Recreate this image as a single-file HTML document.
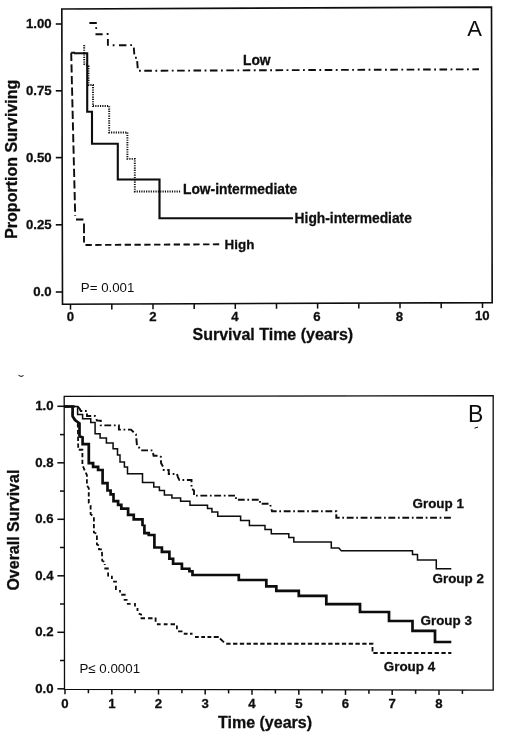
<!DOCTYPE html>
<html>
<head>
<meta charset="utf-8">
<title>Survival curves</title>
<style>
html,body{margin:0;padding:0;background:#fff;}
body{width:520px;height:733px;overflow:hidden;font-family:"Liberation Sans",sans-serif;}
svg{display:block;}
text{font-family:"Liberation Sans",sans-serif;fill:#111;}
.b{font-weight:bold;}
.tk,.lb,.ax{stroke:#111;stroke-width:0.3px;}
.tk{font-weight:bold;font-size:13.2px;}
.lb{font-weight:bold;font-size:13.4px;}
.ax{font-weight:bold;font-size:16px;}
.ln{fill:none;stroke:#0a0a0a;}
</style>
</head>
<body>
<svg width="520" height="733" viewBox="0 0 520 733">
<defs><filter id="soft" x="0" y="0" width="520" height="733" filterUnits="userSpaceOnUse"><feGaussianBlur stdDeviation="0.4"/></filter></defs>
<rect x="0" y="0" width="520" height="733" fill="#ffffff"/>
<g filter="url(#soft)">

<!-- ================= PANEL A ================= -->
<g id="panelA">
<polygon class="ln" stroke-width="1.6" points="61.8,9 491.5,7.1 492.2,302.6 62.5,304.2"/>
<!-- y ticks -->
<g class="ln" stroke-width="1.6">
<line x1="55.8" y1="24" x2="62" y2="24"/>
<line x1="55.8" y1="90.8" x2="62" y2="90.8"/>
<line x1="55.8" y1="157.6" x2="62" y2="157.6"/>
<line x1="55.8" y1="224.8" x2="62" y2="224.8"/>
<line x1="55.8" y1="292" x2="62" y2="292"/>
</g>
<g class="tk" text-anchor="end">
<text x="51.6" y="28.1">1.00</text>
<text x="51.6" y="94.9">0.75</text>
<text x="51.6" y="161.7">0.50</text>
<text x="51.6" y="228.9">0.25</text>
<text x="51.6" y="296.1">0.0</text>
</g>
<!-- x ticks -->
<g class="ln" stroke-width="1.5">
<line x1="70.5" y1="304" x2="70.5" y2="309.6"/>
<line x1="111.8" y1="303.9" x2="111.8" y2="309.4"/>
<line x1="153" y1="303.7" x2="153" y2="309.2"/>
<line x1="194.2" y1="303.6" x2="194.2" y2="309.1"/>
<line x1="235.3" y1="303.4" x2="235.3" y2="308.9"/>
<line x1="276.5" y1="303.3" x2="276.5" y2="308.8"/>
<line x1="317.6" y1="303.1" x2="317.6" y2="308.6"/>
<line x1="358.8" y1="303" x2="358.8" y2="308.5"/>
<line x1="400" y1="302.8" x2="400" y2="308.3"/>
<line x1="441.2" y1="302.7" x2="441.2" y2="308.2"/>
<line x1="482.5" y1="302.5" x2="482.5" y2="308"/>
</g>
<g class="tk" text-anchor="middle">
<text x="70.3" y="321.4">0</text>
<text x="152.8" y="321.2">2</text>
<text x="235" y="321">4</text>
<text x="317" y="320.8">6</text>
<text x="399.5" y="320.6">8</text>
<text x="482.3" y="320.4">10</text>
</g>
<text class="ax" x="192.5" y="340">Survival Time (years)</text>
<text class="ax" transform="translate(17,238.8) rotate(-90)">Proportion Surviving</text>
<text x="467.3" y="35.6" font-size="22">A</text>
<text x="80.8" y="292" font-size="13.3">P= 0.001</text>

<!-- Low (dash-dot) -->
<g class="ln" stroke-width="1.9">
<path d="M89.4,23 H96.8 M95.5,34.2 H102.6 M107.9,38.9 V45.8 M119,45.3 H126.4 M133.8,47.6 L134.3,54.4 M137.2,61.1 L137.7,68.2"/>
<path d="M95.3,28.1 h1.8 M106.7,34 h1.8 M112.7,45.3 h1.8 M130.2,45.1 h1.8 M135,57.7 h1.8"/>
<path stroke-dasharray="1.8 3.5 7.6 3.5" d="M139,70.8 L479,69.3"/>
</g>
<!-- Low-intermediate (dotted) -->
<path class="ln" stroke-width="1.9" stroke-dasharray="1.15 1.2" d="M84.2,45 V64 L88.5,66 V85 H93 V106 H109.2 V132.5 H127.4 V158.9 H134.8 V191.5 H180.5"/>
<!-- High (dashed) -->
<g class="ln" stroke-width="1.9">
<path stroke-dasharray="8.2 3.4" d="M71.2,52.8 L72.8,120 L75.2,216"/>
<path d="M71.2,52.8 H75 M76,219.5 H83.4 M84,223.5 V233.3 M84,236 V242.4"/>
<path stroke-dasharray="6.3 3.5" d="M85.5,245 L219.5,244.3"/>
</g>
<!-- High-intermediate (solid) -->
<path class="ln" stroke-width="2.1" d="M74,53.2 H87.2 V111.8 H92 V143.7 H117.8 V179.5 H159.5 V218.3 H293"/>

<text class="lb" x="243" y="65" style="font-size:13.8px">Low</text>
<text class="lb" x="183" y="194.3" style="font-size:13.8px">Low-intermediate</text>
<text class="lb" x="294.6" y="223.4" style="font-size:13.8px">High-intermediate</text>
<text class="lb" x="224.6" y="248.6">High</text>
</g>

<!-- ================= PANEL B ================= -->
<g id="panelB">
<polygon class="ln" stroke-width="1.3" points="64.2,396.4 493.2,395.7 493.2,690.2 64.5,689.3"/>
<g class="ln" stroke-width="1.5">
<line x1="57.4" y1="406.3" x2="64.4" y2="406.3"/>
<line x1="60" y1="434.6" x2="64.4" y2="434.6"/>
<line x1="57.4" y1="462.8" x2="64.4" y2="462.8"/>
<line x1="60" y1="491.1" x2="64.4" y2="491.1"/>
<line x1="57.4" y1="519.3" x2="64.4" y2="519.3"/>
<line x1="60" y1="547.5" x2="64.4" y2="547.5"/>
<line x1="57.4" y1="575.8" x2="64.4" y2="575.8"/>
<line x1="60" y1="604.0" x2="64.4" y2="604.0"/>
<line x1="57.4" y1="632.3" x2="64.4" y2="632.3"/>
<line x1="60" y1="660.5" x2="64.4" y2="660.5"/>
<line x1="57.4" y1="688.8" x2="64.4" y2="688.8"/>
</g>
<g class="tk" text-anchor="end">
<text x="53.6" y="410.1">1.0</text>
<text x="53.6" y="466.6">0.8</text>
<text x="53.6" y="523.1">0.6</text>
<text x="53.6" y="579.6">0.4</text>
<text x="53.6" y="636.1">0.2</text>
<text x="53.6" y="692.6">0.0</text>
</g>
<g class="ln" stroke-width="1.5">
<line x1="65.0" y1="689.3" x2="65.0" y2="694.3"/>
<line x1="88.4" y1="689.4" x2="88.4" y2="693.2"/>
<line x1="111.8" y1="689.4" x2="111.8" y2="694.4"/>
<line x1="135.1" y1="689.4" x2="135.1" y2="693.2"/>
<line x1="158.5" y1="689.5" x2="158.5" y2="694.5"/>
<line x1="181.9" y1="689.5" x2="181.9" y2="693.3"/>
<line x1="205.2" y1="689.6" x2="205.2" y2="694.6"/>
<line x1="228.6" y1="689.6" x2="228.6" y2="693.4"/>
<line x1="252.0" y1="689.7" x2="252.0" y2="694.7"/>
<line x1="275.4" y1="689.7" x2="275.4" y2="693.5"/>
<line x1="298.8" y1="689.8" x2="298.8" y2="694.8"/>
<line x1="322.1" y1="689.8" x2="322.1" y2="693.6"/>
<line x1="345.5" y1="689.9" x2="345.5" y2="694.9"/>
<line x1="368.9" y1="689.9" x2="368.9" y2="693.7"/>
<line x1="392.2" y1="690.0" x2="392.2" y2="695.0"/>
<line x1="415.6" y1="690.0" x2="415.6" y2="693.8"/>
<line x1="439.0" y1="690.1" x2="439.0" y2="695.1"/>
<line x1="462.4" y1="690.1" x2="462.4" y2="693.9"/>
</g>
<g class="tk" text-anchor="middle">
<text x="65.0" y="707.9">0</text>
<text x="111.8" y="707.9">1</text>
<text x="158.5" y="707.9">2</text>
<text x="205.2" y="707.9">3</text>
<text x="252.0" y="707.9">4</text>
<text x="298.8" y="707.9">5</text>
<text x="345.5" y="707.9">6</text>
<text x="392.2" y="707.9">7</text>
<text x="439.0" y="707.9">8</text>
</g>
<text class="ax" x="218" y="727.8">Time (years)</text>
<text class="ax" transform="translate(18.8,590.6) rotate(-90)">Overall Survival</text>
<text x="468" y="421.8" font-size="23">B</text>
<text x="79.5" y="672.8" font-size="13.3">P≤ 0.0001</text>
<path id="g4a" class="ln" stroke-width="1.8" stroke-dasharray="4.3 2.5" d="M64,406.5 H72.6 V416.3 L75,420 L77.8,422.5 L78.2,447 V449.75 H82.4 V465 L85.6,472.5 L86.9,475 V485.5 L88.75,488 V503 L90.6,505.5 V514 L93.9,516.75 V532.5 L96.9,533.75 V544.4 L99,545.6 V549.4 H101.9 L102.2,560.6 L104.75,562 V565"/>
<path id="g4m" class="ln" stroke-width="1.8" d="M104.4,568.5 H108.75 M108.1,572.6 V576.4 M111.9,575.75 V578.9 M113.1,581.6 H116.9 M115.9,585.75 V590.1 M120,590.1 V592.6 M121.25,594.75 H125.6 M123.75,599.8 H127.5 M126.9,603.9 H130.6 M135,603 V606.5 M137.5,608 V611 M138.75,613.6 L141.9,614.9 M140.6,618.25 H145 M148.1,618.25 H152.5 M155.6,617.4 V621.75 M156.9,624.25 H160.6 M163.75,624.25 H167.5 M170.6,624.25 H175 M176.9,625.5 V629.25 M178.1,631.4 H182.5 M183.75,633.75 H187.5 M190,633.75 H192.5 M195,637 H198.75 M201.25,637 H205 M207.5,637 H211.25 M213.75,637 H218.75 M220,638.5 L224,642.3"/>
<path id="g4b" class="ln" stroke-width="1.8" stroke-dasharray="4.3 2.5" d="M226.25,643.75 H372.5 V653 H451.3"/>
<path id="g1" class="ln" stroke-width="1.9" stroke-dasharray="6.8 2.7 1.7 2.7" d="M64,406.5 H77.6 L79.5,408.5 L80.75,411 H87 V416 H95 L97,420.6 H100.75 V425.4 H118.9 V429.6 H131 L136,434.5 L137,446 L139,447.5 L141,450.4 H152.5 L153.6,455.8 H159 L161,457 V463 L163.75,468 V470 H168.75 V474 H177 L178,477.5 L179.4,480 H191.5 V488.5 L194,490.5 V495.6 H236 V499.8 H260 V503.8 H270 L272,511.3 H336.3 V517.8 H451.3"/>
<path id="g2" class="ln" stroke-width="1.5" d="M64,406.5 H77.6 V414.4 H82.6 V418.75 H90.75 V422.5 H95.1 V433.75 H100.1 V438.1 H106.4 V443.1 H113.1 V448.75 H117.5 V455 H120 V461.9 H124.4 V466.9 H127.5 V473.75 H142.5 V482.5 H153.75 V486.9 H159.4 V490.6 H164.4 V495 H171.9 V498.1 H180.6 V501.25 H190 V505.25 H207.5 V508.5 H211.9 V511.9 H217.75 V516.25 H240.6 V520.6 H249.4 V525.5 H265 V529.5 H271.3 V533.8 H288.8 V537.5 H293.8 V542 H331.3 V548 H338.8 L341.3,550.8 H412.5 V554.4 H417.5 V560 H436.3 V568.8 H451.3"/>
<path id="g3" class="ln" stroke-width="2.7" stroke-linejoin="miter" d="M64,406.5 H72.6 V416.3 L75,420 L78.3,422.5 L79.5,423.5 V436.3 L82.6,437.5 V444.2 H88.8 V463.1 H93.1 V466.9 H98.1 V470 H102.6 V483.2 H107.5 V490.5 H110.6 V494.3 H113.5 V501.1 H118.1 V504.9 H121.3 V508.6 H128.1 V514.9 H133.75 V519.3 H142.5 V525 L144.4,525.5 V533.1 H148.75 V535 H154.4 V547.5 H161.9 V551.9 H169.4 V558.75 H173.1 V563.75 H181.9 V568.75 H189.4 V571.25 H192.5 V575 H238.8 V580 H266.3 V586.3 H276.3 V590.8 H298.8 V595.8 H326.3 V604.2 H360 V612 H389 V621 H412.5 V630.8 H435 V642 H451.3"/>
<text class="lb" x="412.5" y="507.5">Group 1</text>
<text class="lb" x="432.5" y="583.3">Group 2</text>
<text class="lb" x="420.5" y="624.6">Group 3</text>
<text class="lb" x="383.8" y="670.8">Group 4</text>
<path class="ln" stroke="#555" stroke-width="1" d="M18.5,375.2 Q21,377.6 23.5,375.6"/>
<path class="ln" stroke="#555" stroke-width="1" d="M474.5,428.2 L478,427"/>
</g>
</g>
</svg>
</body>
</html>
